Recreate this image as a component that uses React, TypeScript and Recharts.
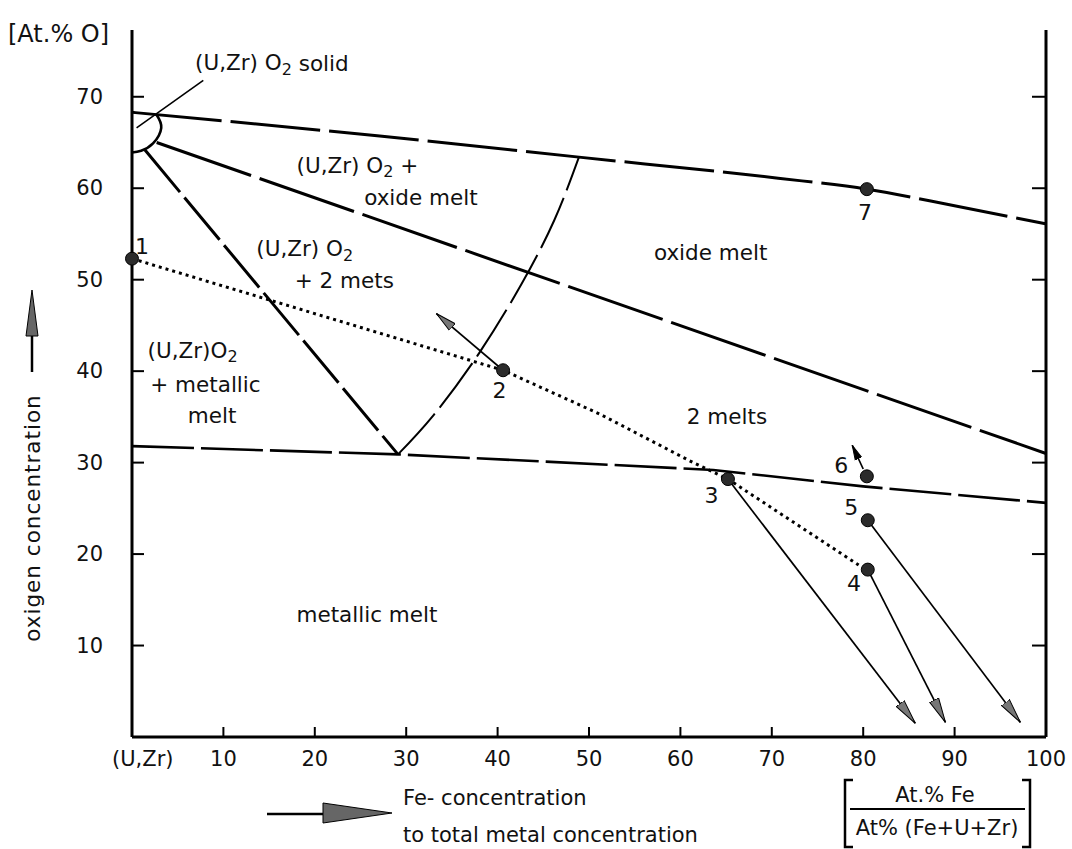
import React from 'react';
import { ComposedChart, Line, Scatter, XAxis, YAxis } from 'recharts';

const FONT = "'DejaVu Sans', 'Liberation Sans', sans-serif";

// axes
const xTicks = [0, 10, 20, 30, 40, 50, 60, 70, 80, 90, 100];
const xTickNames: Record<number, string> = { 0: '(U,Zr)' };
const yTicks = [10, 20, 30, 40, 50, 60, 70];

// phase boundaries (At.% Fe ratio, At.% O)
const upperBoundary = [
  { x: 0, y: 68.3 }, { x: 27.1, y: 65.7 }, { x: 48.9, y: 63.4 }, { x: 70.7, y: 61.1 },
  { x: 80.4, y: 59.9 }, { x: 90.4, y: 58.0 }, { x: 100, y: 56.1 },
];
const oxideMeltBoundary = [{ x: 2.7, y: 65.0 }, { x: 100, y: 31.0 }];
const leftTieLine = [{ x: 1.4, y: 64.2 }, { x: 29.1, y: 30.9 }];
const metalBoundary = [
  { x: 0, y: 31.8 }, { x: 29.1, y: 30.9 }, { x: 63.6, y: 29.2 }, { x: 80, y: 27.4 }, { x: 100, y: 25.6 },
];
const gapArc = [
  { x: 29.1, y: 30.9 }, { x: 33.0, y: 35.2 }, { x: 38.0, y: 42.0 }, { x: 42.6, y: 49.5 },
  { x: 46.2, y: 56.5 }, { x: 48.9, y: 63.4 },
];
const solidArc = [
  { x: 2.7, y: 68.0 }, { x: 3.2, y: 66.6 }, { x: 2.3, y: 64.9 }, { x: 1.0, y: 64.1 }, { x: 0, y: 63.9 },
];
const solidLeader = [{ x: 7.8, y: 71.8 }, { x: 0.5, y: 66.6 }];

// oxidation path through the test points
const oxidationPath = [
  { x: 0, y: 52.3 }, { x: 40.6, y: 40.1 }, { x: 51.2, y: 35.3 }, { x: 61.4, y: 30.0 },
  { x: 65.2, y: 28.2 }, { x: 79.5, y: 18.8 },
];

const testPoints = [
  { id: '1', x: 0, y: 52.3 },
  { id: '2', x: 40.6, y: 40.1 },
  { id: '3', x: 65.2, y: 28.2 },
  { id: '4', x: 80.5, y: 18.3 },
  { id: '5', x: 80.5, y: 23.7 },
  { id: '6', x: 80.4, y: 28.5 },
  { id: '7', x: 80.4, y: 59.9 },
];
const pointLabels = [
  { text: '1', x: 1.1, y: 53.6 },
  { text: '2', x: 40.2, y: 37.9 },
  { text: '3', x: 63.4, y: 26.4 },
  { text: '4', x: 79.0, y: 16.8 },
  { text: '5', x: 78.7, y: 25.1 },
  { text: '6', x: 77.6, y: 29.7 },
  { text: '7', x: 80.2, y: 57.4 },
];

const arrows = [
  { from: { x: 40.6, y: 40.1 }, to: { x: 33.3, y: 46.3 }, head: 'headSmall' },
  { from: { x: 65.2, y: 28.2 }, to: { x: 85.7, y: 1.5 }, head: 'head' },
  { from: { x: 80.5, y: 18.3 }, to: { x: 89.0, y: 1.6 }, head: 'head' },
  { from: { x: 80.5, y: 23.7 }, to: { x: 97.2, y: 1.6 }, head: 'head' },
  { from: { x: 80.0, y: 29.3 }, to: { x: 78.8, y: 31.9 }, head: 'headBlack' },
];

const regionLabels = [
  { text: '(U,Zr) O_2 solid', x: 6.9, y: 73.7 },
  { text: '(U,Zr) O_2 +', x: 18.0, y: 62.5 },
  { text: 'oxide  melt', x: 25.4, y: 59.0 },
  { text: '(U,Zr) O_2', x: 13.6, y: 53.4 },
  { text: '+ 2 mets', x: 17.8, y: 49.9 },
  { text: '(U,Zr)O_2', x: 1.7, y: 42.3 },
  { text: '+ metallic', x: 2.0, y: 38.5 },
  { text: 'melt', x: 6.1, y: 35.2 },
  { text: 'oxide  melt', x: 57.1, y: 53.0 },
  { text: '2  melts', x: 60.7, y: 35.0 },
  { text: 'metallic  melt', x: 18.0, y: 13.4 },
];

const renderWithSub = (text: string) => {
  const parts = text.split('_2');
  if (parts.length === 1) return text;
  return (
    <>
      {parts[0]}
      <tspan dy={6} fontSize={16}>2</tspan>
      <tspan dy={-6}>{parts[1]}</tspan>
    </>
  );
};

const RegionText = (props: any) => (
  <text x={props.cx} y={props.cy} dominantBaseline="central" fontSize={21.5} fontFamily={FONT} fill="#111">
    {renderWithSub(props.payload.text)}
  </text>
);

const PointText = (props: any) => (
  <text x={props.cx} y={props.cy} textAnchor="middle" dominantBaseline="central" fontSize={22} fontFamily={FONT} fill="#111">
    {props.payload.text}
  </text>
);

const PointDot = (props: any) => (
  <circle cx={props.cx} cy={props.cy} r={6.5} fill="#2b2b2b" stroke="#000" strokeWidth={1} />
);

const XTick = (props: any) => {
  const { x, y, payload } = props;
  const v = payload.value;
  const edge = v === 0 || v === 100;
  return (
    <g>
      {!edge && <line x1={x} y1={y} x2={x} y2={y - 10} stroke="#000" strokeWidth={2} />}
      <text
        x={v === 0 ? x - 20 : x}
        y={y + 22}
        textAnchor={v === 0 ? 'start' : 'middle'}
        dominantBaseline="central"
        fontSize={21}
        fontFamily={FONT}
        fill="#111"
      >
        {xTickNames[v] ?? v}
      </text>
    </g>
  );
};

const YTick = (props: any) => {
  const { x, y, payload } = props;
  return (
    <g>
      <line x1={x} y1={y} x2={x + 12} y2={y} stroke="#000" strokeWidth={2} />
      <text x={x - 29} y={y} textAnchor="end" dominantBaseline="central" fontSize={21} fontFamily={FONT} fill="#111">
        {payload.value}
      </text>
    </g>
  );
};

const RightTick = (props: any) => (
  <line x1={props.x} y1={props.y} x2={props.x - 14} y2={props.y} stroke="#000" strokeWidth={2} />
);

const XLabel = (props: any) => {
  const vb = props.viewBox || { x: 132, y: 737 };
  const ox = vb.x;
  const oy = vb.y;
  return (
    <g fontFamily={FONT} fill="#111">
      <line x1={ox + 135} y1={oy + 77} x2={ox + 191} y2={oy + 77} stroke="#000" strokeWidth={2.5} />
      <polygon
        points={`${ox + 191},${oy + 66} ${ox + 260},${oy + 76} ${ox + 191},${oy + 86}`}
        fill="#666"
        stroke="#000"
        strokeWidth={1}
      />
      <text x={ox + 271} y={oy + 61} dominantBaseline="central" fontSize={21}>Fe- concentration</text>
      <text x={ox + 271} y={oy + 98} dominantBaseline="central" fontSize={21}>to total metal concentration</text>
      <path d={`M${ox + 721},${oy + 43} H${ox + 713} V${oy + 110} H${ox + 721}`} fill="none" stroke="#000" strokeWidth={2.5} />
      <path d={`M${ox + 890},${oy + 43} H${ox + 898} V${oy + 110} H${ox + 890}`} fill="none" stroke="#000" strokeWidth={2.5} />
      <line x1={ox + 718} y1={oy + 72} x2={ox + 893} y2={oy + 72} stroke="#000" strokeWidth={2} />
      <text x={ox + 803} y={oy + 58} textAnchor="middle" dominantBaseline="central" fontSize={21}>At.% Fe</text>
      <text x={ox + 805} y={oy + 91} textAnchor="middle" dominantBaseline="central" fontSize={21}>At% (Fe+U+Zr)</text>
    </g>
  );
};

const YLabel = () => (
  <g fontFamily={FONT} fill="#111">
    <text x={8} y={34} dominantBaseline="central" fontSize={24}>[At.% O]</text>
    <polygon points="32,290 26,336 38,336" fill="#666" stroke="#000" strokeWidth={1} />
    <line x1={32} y1={336} x2={32} y2={372} stroke="#000" strokeWidth={2.5} />
    <text
      x={32}
      y={518}
      transform="rotate(-90 32 518)"
      textAnchor="middle"
      dominantBaseline="central"
      fontSize={21.5}
      letterSpacing={1}
    >
      oxigen  concentration
    </text>
  </g>
);

const boundary = { stroke: '#000', dot: false, isAnimationActive: false, legendType: 'none' as const };

export default function App() {
  return (
    <div style={{ position: 'absolute', left: 0, top: 0, width: 1072, height: 849, background: '#fff' }}>
      <svg width={0} height={0} style={{ position: 'absolute' }}>
        <defs>
          <marker id="head" markerUnits="userSpaceOnUse" markerWidth={26} markerHeight={12} refX={25} refY={6} orient="auto">
            <path d="M0,1 L25,6 L0,11 Z" fill="#777" stroke="#000" strokeWidth={1} />
          </marker>
          <marker id="headSmall" markerUnits="userSpaceOnUse" markerWidth={22} markerHeight={12} refX={21} refY={6} orient="auto">
            <path d="M0,1.5 L21,6 L0,10.5 Z" fill="#777" stroke="#000" strokeWidth={1} />
          </marker>
          <marker id="headBlack" markerUnits="userSpaceOnUse" markerWidth={16} markerHeight={10} refX={15} refY={5} orient="auto">
            <path d="M0,1.5 L15,5 L0,8.5 Z" fill="#000" stroke="#000" strokeWidth={1} />
          </marker>
        </defs>
      </svg>
      <ComposedChart width={1072} height={849} margin={{ top: 30, right: 25, left: 72, bottom: 72 }}>
        <XAxis
          type="number"
          dataKey="x"
          domain={[0, 100]}
          ticks={xTicks}
          interval={0}
          height={40}
          tickSize={0}
          tickMargin={0}
          tickLine={false}
          axisLine={{ stroke: '#000', strokeWidth: 3 }}
          tick={XTick}
          label={<XLabel />}
        />
        <YAxis
          type="number"
          dataKey="y"
          domain={[0, 77.3]}
          allowDataOverflow
          ticks={yTicks}
          interval={0}
          width={60}
          tickSize={0}
          tickMargin={0}
          tickLine={false}
          axisLine={{ stroke: '#000', strokeWidth: 3 }}
          tick={YTick}
          label={<YLabel />}
        />
        <YAxis
          yAxisId="r"
          orientation="right"
          type="number"
          dataKey="y"
          domain={[0, 77.3]}
          allowDataOverflow
          ticks={yTicks}
          interval={0}
          width={1}
          tickSize={0}
          tickMargin={0}
          tickLine={false}
          axisLine={{ stroke: '#000', strokeWidth: 3 }}
          tick={RightTick}
        />

        <Line {...boundary} data={upperBoundary} dataKey="y" type="monotone" strokeWidth={3} strokeDasharray="90 9" />
        <Line {...boundary} data={oxideMeltBoundary} dataKey="y" type="linear" strokeWidth={3} strokeDasharray="100 9" />
        <Line {...boundary} data={leftTieLine} dataKey="y" type="linear" strokeWidth={3} strokeDasharray="55 7" />
        <Line {...boundary} data={metalBoundary} dataKey="y" type="linear" strokeWidth={2.6} strokeDasharray="62 7" />
        <Line {...boundary} data={gapArc} dataKey="y" type="natural" strokeWidth={2} strokeDasharray="55 8" />
        <Line {...boundary} data={solidArc} dataKey="y" type="natural" strokeWidth={2.6} />
        <Line {...boundary} data={solidLeader} dataKey="y" type="linear" strokeWidth={1.6} />
        <Line {...boundary} data={oxidationPath} dataKey="y" type="linear" strokeWidth={3} strokeDasharray="3 4" />

        {arrows.map((a, i) => (
          <Line
            key={i}
            {...boundary}
            data={[a.from, a.to]}
            dataKey="y"
            type="linear"
            strokeWidth={1.7}
            markerEnd={`url(#${a.head})`}
          />
        ))}

        <Scatter data={testPoints} dataKey="y" shape={PointDot} isAnimationActive={false} legendType="none" />
        <Scatter data={pointLabels} dataKey="y" shape={PointText} isAnimationActive={false} legendType="none" />
        <Scatter data={regionLabels} dataKey="y" shape={RegionText} isAnimationActive={false} legendType="none" />
      </ComposedChart>
    </div>
  );
}
